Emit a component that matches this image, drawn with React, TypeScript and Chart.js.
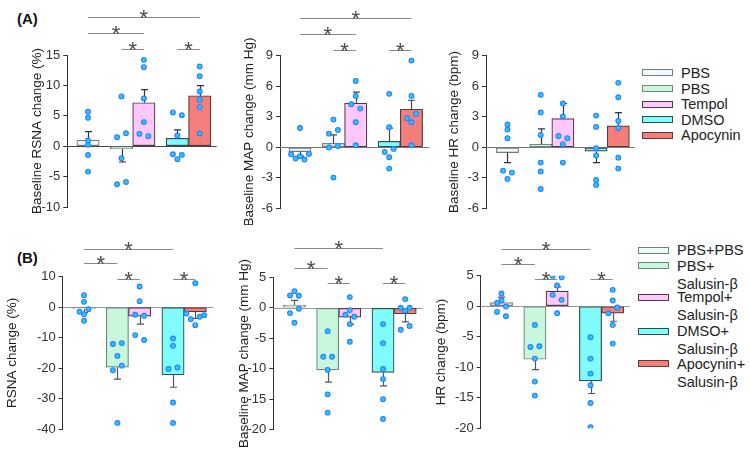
import React, { useEffect, useRef } from "react";
import { Chart, registerables } from "chart.js";

Chart.register(...registerables);

const FONT = "'Liberation Sans', Arial, Helvetica, sans-serif";

// x positions of the five bars (in bar-width units)
const barPositions = [0, 1.5, 2.5, 4, 5];

const legendALabels = ["PBS", "PBS", "Tempol", "DMSO", "Apocynin"];
const legendBLabels = [["PBS+PBS"], ["PBS+", "Salusin-β"], ["Tempol+", "Salusin-β"], ["DMSO+", "Salusin-β"], ["Apocynin+", "Salusin-β"]];

const barFills = ["#eefbfb", "#c8f7dc", "#ffc8fc", "#80fcfc", "#f47e7a"];
const barBorders = ["#7a7a7a", "#6f8a7c", "#4a3a4a", "#2f4f4f", "#5a3a3a"];

// ---------- (A) baseline RSNA change (%)
const rsnaBaseMean = [1.0, -0.45, 7.15, 1.3, 8.3];
const rsnaBaseSem = [1.4, 2.15, 2.15, 1.4, 1.65];
const rsnaBaseDots = [
  [5.66, 4.67, 0.93, 0.22, -1.43, -4.18],
  [8.19, 1.48, 2.14, -1.98, -6.26, -5.88],
  [14.2, 13.0, 7.86, 3.96, 2.03, 1.65],
  [5.55, 5.11, 1.76, -1.32, -1.43, -2.14],
  [13.1, 11.5, 9.0, 7.69, 6.43, 2.09],
];
const rsnaBaseJitter = [
  [0, 0, 0, 0, 0, 0],
  [0, -0.2, 0.2, 0, -0.2, 0.2],
  [0, 0, 0, 0, -0.2, 0.2],
  [-0.2, 0.2, 0, -0.2, 0.2, 0],
  [0, 0, 0, 0, 0, 0],
];
const rsnaBaseSig = [[0, 4, 21.3], [0, 2, 18.6], [1, 2, 16.0], [3, 4, 16.0]];
const rsnaBaseTicks = [-10, 15, 5];

// ---------- (A) baseline MAP change (mm Hg)
const mapBaseMean = [-0.43, 0.39, 4.33, 0.59, 3.74];
const mapBaseSem = [0.45, 0.82, 1.08, 1.3, 0.88];
const mapBaseDots = [
  [1.9, -0.69, -1.11, -0.89, -1.21, -0.66],
  [2.72, 1.34, 1.7, -0.03, 0.13, -2.98],
  [6.52, 5.05, 4.23, 3.8, 2.46, 0.2],
  [5.25, 1.97, -0.46, -0.16, -0.98, -2.1],
  [8.52, 5.05, 2.85, 3.28, 2.46, 0.2],
];
const mapBaseJitter = [
  [0, -0.4, -0.2, 0, 0.2, 0.4],
  [0, -0.2, 0.2, -0.2, 0.2, 0],
  [0, 0, -0.2, 0.2, 0, 0],
  [0, 0, -0.2, 0.2, 0, 0],
  [0, 0, -0.2, 0.2, 0, 0],
];
const mapBaseSig = [[0, 4, 12.75], [0, 2, 11.18], [1, 2, 9.6], [3, 4, 9.6]];
const mapBaseTicks = [-6, 9, 3];

// ---------- (A) baseline HR change (bpm)
const hrBaseMean = [-0.52, 0.3, 2.82, -0.39, 2.1];
const hrBaseSem = [0.99, 1.5, 1.48, 1.12, 1.31];
const hrBaseDots = [
  [2.23, 1.74, 0.89, -2.3, -2.49, -3.11],
  [5.15, 3.41, 1.21, -1.51, -2.39, -4.1],
  [4.3, 3.02, 1.11, 0.89, 0.3, -1.51],
  [3.11, 2.0, -0.1, -0.82, -3.21, -3.7],
  [6.33, 4.92, 2.59, 1.9, -1.02, -2.1],
];
const hrBaseJitter = [
  [0, 0, 0, -0.2, 0.2, 0],
  [0, 0, 0, 0, 0, 0],
  [0, 0, -0.2, 0.2, 0, 0],
  [0, 0, 0, 0, 0, 0],
  [0, 0, 0, 0, 0, 0],
];
const hrBaseSig: number[][] = [];
const hrBaseTicks = [-6, 9, 3];

// ---------- (B) RSNA change (%)
const rsnaSalMean = [-0.6, -19.7, -2.95, -22.2, -1.53];
const rsnaSalSem = [1.2, 3.9, 2.6, 4.1, 2.2];
const rsnaSalDots = [
  [3.9, 1.75, -0.66, -1.53, -2.3, -4.48],
  [-12.1, -11.8, -16.0, -20.7, -19.2, -38.0],
  [6.78, 1.97, -2.51, -2.84, -9.18, -10.8],
  [-10.3, -12.7, -20.3, -19.8, -31.3, -38.0],
  [7.87, -2.08, -3.93, -3.17, -2.62, -5.9],
];
const rsnaSalJitter = [
  [0, 0, 0.2, -0.2, 0, 0],
  [-0.2, 0.2, 0, -0.2, 0.2, 0],
  [0, 0, -0.2, 0.2, -0.2, 0.2],
  [0, 0, -0.2, 0.2, 0, 0],
  [0, -0.4, -0.2, 0.2, 0.4, 0],
];
const rsnaSalSig = [[0, 3, 19.2], [0, 1, 14.4], [1, 2, 9.2], [3, 4, 9.2]];
const rsnaSalTicks = [-40, 10, 10];

// ---------- (B) MAP change (mm Hg)
const mapSalMean = [0.44, -10.2, -1.53, -10.6, -0.98];
const mapSalSem = [0.76, 2.0, 1.2, 2.2, 1.32];
const mapSalDots = [
  [2.02, 2.73, 1.97, -0.87, -0.16, -2.46],
  [-3.83, -8.03, -8.03, -10.2, -14.2, -17.2],
  [1.75, -0.38, -1.15, -1.48, -2.68, -5.57],
  [-2.68, -5.79, -10.05, -11.7, -15.0, -18.25],
  [1.42, 0.0, 0.0, -0.49, -3.6, -3.0],
];
const mapSalJitter = [
  [-0.2, 0, 0.2, -0.2, 0.2, 0],
  [0, -0.2, 0.2, 0, 0, 0],
  [0, 0, -0.2, 0.2, 0, 0],
  [0, 0, 0, 0, 0, 0],
  [0, -0.2, 0.2, 0, -0.2, 0.2],
];
const mapSalSig = [[0, 3, 9.84], [0, 1, 6.56], [1, 2, 4.0], [3, 4, 4.0]];
const mapSalTicks = [-20, 5, 5];

// ---------- (B) HR change (bpm)
const hrSalMean = [0.6, -8.69, 2.46, -12.24, -1.15];
const hrSalSem = [0.9, 1.7, 0.7, 2.06, 1.31];
const hrSalDots = [
  [2.08, 0.98, 0.55, -0.05, -0.93, -1.64],
  [-3.06, -6.67, -6.56, -8.58, -12.35, -14.64],
  [4.97, 4.75, 3.39, 1.86, 1.04, -1.15],
  [-5.08, -8.58, -11.04, -12.95, -15.85, -19.84],
  [2.68, 0.93, -0.22, -1.15, -3.06, -6.12],
];
const hrSalJitter = [
  [0, 0, -0.2, 0.2, -0.2, 0.2],
  [0, -0.2, 0.2, 0, 0, 0],
  [-0.2, 0.2, 0, -0.2, 0.2, 0],
  [0, 0, 0, 0, 0, 0],
  [0, 0, 0.2, -0.2, 0, 0],
];
const hrSalSig = [[0, 3, 9.3], [0, 1, 6.95], [1, 2, 4.38], [3, 4, 4.38]];
const hrSalTicks = [-20, 5, 5];

type PanelDef = {
  box: { left: number; top: number; width: number; height: number };
  area: { x0: number; x1: number; y0: number; y1: number };
  titleX: number;
  title: string;
  xRange: number[];
  ticks: number[];
  mean: number[];
  sem: number[];
  dots: number[][];
  jitter: number[][];
  sig: number[][];
  zeroColor: string;
  errColor: string;
};

const panels: PanelDef[] = [
  {
    box: { left: 0, top: 0, width: 230, height: 225 },
    area: { x0: 67.3, x1: 216.7, y0: 55, y1: 207 },
    titleX: 37.5, title: "Baseline RSNA change (%)", xRange: [-0.927, 5.76],
    ticks: rsnaBaseTicks, mean: rsnaBaseMean, sem: rsnaBaseSem, dots: rsnaBaseDots,
    jitter: rsnaBaseJitter, sig: rsnaBaseSig, zeroColor: "#444", errColor: "#333",
  },
  {
    box: { left: 230, top: 0, width: 212, height: 225 },
    area: { x0: 280, x1: 429.3, y0: 55.7, y1: 208.3 },
    titleX: 249, title: "Baseline MAP change (mm Hg)", xRange: [-0.897, 5.8],
    ticks: mapBaseTicks, mean: mapBaseMean, sem: mapBaseSem, dots: mapBaseDots,
    jitter: mapBaseJitter, sig: mapBaseSig, zeroColor: "#777", errColor: "#444",
  },
  {
    box: { left: 442, top: 0, width: 198, height: 225 },
    area: { x0: 486, x1: 635, y0: 55.7, y1: 208.3 },
    titleX: 454, title: "Baseline HR change (bpm)", xRange: [-0.97, 5.75],
    ticks: hrBaseTicks, mean: hrBaseMean, sem: hrBaseSem, dots: hrBaseDots,
    jitter: hrBaseJitter, sig: hrBaseSig, zeroColor: "#777", errColor: "#333",
  },
  {
    box: { left: 0, top: 225, width: 222, height: 233 },
    area: { x0: 62.7, x1: 213.3, y0: 276.7, y1: 429 },
    titleX: 12.5, title: "RSNA change (%)", xRange: [-0.957, 5.81],
    ticks: rsnaSalTicks, mean: rsnaSalMean, sem: rsnaSalSem, dots: rsnaSalDots,
    jitter: rsnaSalJitter, sig: rsnaSalSig, zeroColor: "#999", errColor: "#555",
  },
  {
    box: { left: 222, top: 225, width: 206, height: 233 },
    area: { x0: 273.3, x1: 423.3, y0: 277.3, y1: 429.7 },
    titleX: 244, title: "Baseline MAP change (mm Hg)", xRange: [-0.955, 5.8],
    ticks: mapSalTicks, mean: mapSalMean, sem: mapSalSem, dots: mapSalDots,
    jitter: mapSalJitter, sig: mapSalSig, zeroColor: "#999", errColor: "#555",
  },
  {
    box: { left: 428, top: 225, width: 207, height: 233 },
    area: { x0: 480.7, x1: 630, y0: 275.7, y1: 428.3 },
    titleX: 441, title: "HR change (bpm)", xRange: [-0.934, 5.77],
    ticks: hrSalTicks, mean: hrSalMean, sem: hrSalSem, dots: hrSalDots,
    jitter: hrSalJitter, sig: hrSalSig, zeroColor: "#999", errColor: "#555",
  },
];

function PanelChart({ p }: { p: PanelDef }) {
  const ref = useRef<HTMLCanvasElement>(null);
  useEffect(() => {
    const canvas = ref.current;
    if (!canvas) return;
    const { box, area } = p;
    const points: { x: number; y: number }[] = [];
    p.dots.forEach((g, i) =>
      g.forEach((v, k) => points.push({ x: barPositions[i] + p.jitter[i][k], y: v }))
    );
    const titleSize = 13.5;
    const extras = {
      id: "panelExtras",
      beforeDatasetsDraw(chart: any) {
        const { ctx, chartArea } = chart;
        const y = chart.scales.y;
        const y0 = Math.round(y.getPixelForValue(0)) + 0.5;
        ctx.save();
        ctx.strokeStyle = p.zeroColor;
        ctx.lineWidth = 1;
        ctx.beginPath();
        ctx.moveTo(chartArea.left, y0);
        ctx.lineTo(chartArea.right, y0);
        ctx.stroke();
        ctx.restore();
      },
      afterDatasetDraw(chart: any, args: any) {
        if (args.index !== 0) return;
        const { ctx } = chart;
        const y = chart.scales.y;
        ctx.save();
        ctx.strokeStyle = p.errColor;
        ctx.lineWidth = 1.2;
        args.meta.data.forEach((bar: any, i: number) => {
          const m = p.mean[i];
          const dir = m >= 0 ? 1 : -1;
          const ys = y.getPixelForValue(m);
          const ye = y.getPixelForValue(m + dir * p.sem[i]);
          const x = Math.round(bar.x) + 0.5;
          ctx.beginPath();
          ctx.moveTo(x, ys);
          ctx.lineTo(x, ye);
          ctx.moveTo(x - 3.5, ye);
          ctx.lineTo(x + 3.5, ye);
          ctx.stroke();
        });
        ctx.restore();
      },
      afterDraw(chart: any) {
        const { ctx } = chart;
        const x = chart.scales.x;
        const y = chart.scales.y;
        ctx.save();
        p.sig.forEach(([a, b, v]) => {
          const xa = x.getPixelForValue(barPositions[a]);
          const xb = x.getPixelForValue(barPositions[b]);
          const yy = Math.round(y.getPixelForValue(v)) + 0.5;
          ctx.strokeStyle = "#888";
          ctx.lineWidth = 1;
          ctx.beginPath();
          ctx.moveTo(xa, yy);
          ctx.lineTo(xb, yy);
          ctx.stroke();
          ctx.fillStyle = "#4a4a4a";
          ctx.font = `22px ${FONT}`;
          ctx.textAlign = "center";
          ctx.textBaseline = "alphabetic";
          ctx.fillText("*", (xa + xb) / 2, yy + 7);
        });
        ctx.restore();
      },
    };
    const chart = new Chart(canvas, {
      type: "bar",
      data: {
        datasets: [
          {
            type: "bar",
            data: barPositions.map((x, i) => ({ x, y: p.mean[i] })),
            backgroundColor: barFills,
            borderColor: barBorders,
            borderWidth: 1.2,
            borderSkipped: false,
            categoryPercentage: 1,
            barPercentage: 1,
            order: 2,
          } as any,
          {
            type: "scatter",
            data: points,
            pointRadius: 2.4,
            pointBackgroundColor: "#14d2ff",
            pointBorderColor: "#3a74ff",
            pointBorderWidth: 1.1,
            order: 1,
          } as any,
        ],
      },
      options: {
        animation: false,
        responsive: false,
        events: [],
        layout: {
          padding: {
            left: 0,
            top: area.y0 - box.top,
            bottom: box.top + box.height - area.y1,
            right: box.left + box.width - area.x1,
          },
        },
        plugins: { legend: { display: false }, tooltip: { enabled: false } },
        scales: {
          x: {
            type: "linear",
            display: false,
            offset: false,
            min: p.xRange[0],
            max: p.xRange[1],
            afterBuildTicks: (s: any) => {
              s.ticks = [];
            },
          },
          y: {
            min: p.ticks[0],
            max: p.ticks[1],
            ticks: {
              stepSize: p.ticks[2],
              font: { family: FONT, size: 13 },
              color: "#333",
              padding: 3,
            },
            grid: { drawOnChartArea: false, drawTicks: true, tickLength: 4, color: "#333" },
            border: { display: true, color: "#333", width: 1 },
            title: {
              display: true,
              text: p.title,
              font: { family: FONT, size: titleSize },
              color: "#222",
              padding: { top: p.titleX - box.left - (titleSize * 1.2) / 2, bottom: 0 },
            },
            afterFit: (s: any) => {
              s.width = area.x0 - box.left;
            },
          },
        },
      } as any,
      plugins: [extras],
    });
    return () => chart.destroy();
  }, [p]);
  return (
    <canvas
      ref={ref}
      width={p.box.width}
      height={p.box.height}
      style={{ position: "absolute", left: p.box.left, top: p.box.top, width: p.box.width, height: p.box.height }}
    />
  );
}

const legendARows = [72.9, 88.5, 104.1, 119.7, 135.3];
const legendBRows = [250, 265.7, 297, 331, 363.5];

function Legend({ left, textLeft, rows, labels, lineH }: { left: number; textLeft: number; rows: number[]; labels: string[][]; lineH: number }) {
  return (
    <>
      {labels.map((lines, i) => (
        <React.Fragment key={i}>
          <div
            style={{
              position: "absolute",
              left,
              top: rows[i] - 3.5,
              width: 29,
              height: 5,
              background: barFills[i],
              border: `1px solid ${barBorders[i]}`,
            }}
          />
          <div
            style={{
              position: "absolute",
              left: textLeft,
              top: rows[i] - lineH / 2,
              font: `14.5px ${FONT}`,
              lineHeight: `${lineH}px`,
              color: "#222",
              whiteSpace: "nowrap",
            }}
          >
            {lines.map((t, k) => (
              <div key={k}>{t}</div>
            ))}
          </div>
        </React.Fragment>
      ))}
    </>
  );
}

export default function App() {
  return (
    <div style={{ position: "absolute", left: 0, top: 0, width: 750, height: 458, background: "#fff", overflow: "hidden" }}>
      <div style={{ position: "absolute", left: 17, top: 10, font: `bold 15px ${FONT}`, lineHeight: "18px", color: "#111" }}>(A)</div>
      <div style={{ position: "absolute", left: 17, top: 249, font: `bold 15px ${FONT}`, lineHeight: "18px", color: "#111" }}>(B)</div>
      {panels.map((p, i) => (
        <PanelChart key={i} p={p} />
      ))}
      <Legend left={642} textLeft={681} rows={legendARows} labels={legendALabels.map((l) => [l])} lineH={16} />
      <Legend left={638} textLeft={677} rows={legendBRows} labels={legendBLabels} lineH={18} />
    </div>
  );
}
